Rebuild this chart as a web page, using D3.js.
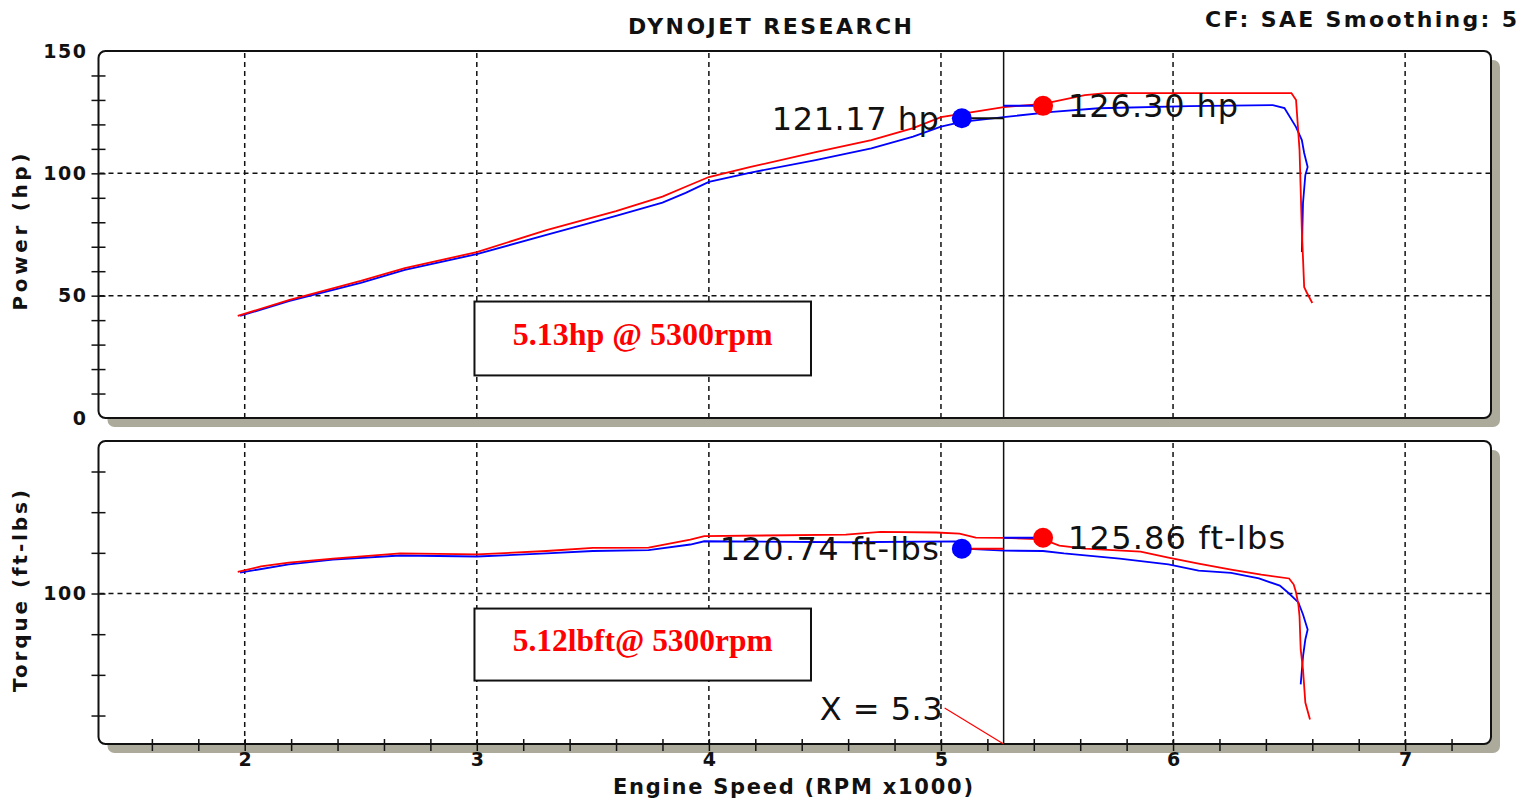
<!DOCTYPE html>
<html>
<head>
<meta charset="utf-8">
<script src="https://cdn.jsdelivr.net/npm/d3@7"></script>
<style>
  html, body { margin: 0; padding: 0; background: #fff; }
  svg { display: block; }
  text { font-family: "DejaVu Sans", Verdana, sans-serif; }
</style>
</head>
<body>
<div class="canvas"></div>
<script>
// engine speed (rpm x1000) and readings, one pair of arrays per run
const powerRpmRed = [1.97, 2.19, 2.50, 2.69, 3.00, 3.30, 3.60, 3.80, 3.90, 4.00, 4.18, 4.46, 4.70, 4.88, 5.00, 5.27, 5.44, 5.62, 5.71, 6.51, 6.53, 6.545, 6.555, 6.565, 6.575, 6.60];
const powerRed = [41.7, 48.2, 56.0, 61.3, 67.8, 76.8, 84.6, 90.5, 94.5, 98.5, 102.6, 108.7, 113.6, 118.5, 123.0, 127.1, 128.4, 132.0, 132.8, 132.8, 130.0, 109.5, 76.8, 53.5, 51.5, 47.0];

const powerRpmBlue = [1.98, 2.19, 2.50, 2.69, 3.00, 3.30, 3.60, 3.80, 3.90, 4.00, 4.18, 4.46, 4.70, 4.88, 5.00, 5.09, 5.28, 5.48, 5.68, 6.07, 6.43, 6.48, 6.53, 6.555, 6.565, 6.58, 6.57, 6.56, 6.555];
const powerBlue = [41.7, 47.8, 55.2, 60.5, 67.0, 74.8, 82.6, 88.0, 92.0, 96.5, 100.3, 105.4, 110.2, 115.0, 119.1, 121.0, 123.1, 125.1, 126.6, 127.5, 127.9, 126.7, 118.9, 113.6, 108.3, 102.6, 99.3, 87.9, 67.8];

const torqueRpmRed = [1.97, 2.07, 2.19, 2.38, 2.67, 3.00, 3.30, 3.50, 3.74, 3.92, 3.98, 4.59, 4.74, 4.98, 5.08, 5.15, 5.27, 5.44, 5.51, 5.62, 5.86, 5.98, 6.11, 6.25, 6.38, 6.50, 6.52, 6.53, 6.54, 6.545, 6.55, 6.56, 6.57, 6.59];
const torqueRed = [110.7, 113.3, 115.2, 117.2, 119.7, 119.2, 120.9, 122.4, 122.6, 126.5, 128.2, 129.0, 130.3, 130.0, 129.5, 127.5, 127.4, 126.6, 123.6, 122.1, 120.6, 117.7, 114.7, 111.8, 109.3, 107.4, 104.4, 100.5, 94.6, 88.7, 72.5, 62.6, 46.4, 38.1];

const torqueRpmBlue = [1.98, 2.19, 2.38, 2.67, 3.00, 3.30, 3.50, 3.74, 3.92, 3.98, 4.59, 5.07, 5.10, 5.27, 5.44, 5.53, 5.77, 5.98, 6.11, 6.25, 6.37, 6.46, 6.50, 6.54, 6.56, 6.58, 6.57, 6.56, 6.55];
const torqueBlue = [110.3, 114.3, 116.7, 118.7, 118.2, 119.7, 120.9, 121.3, 124.1, 125.7, 125.2, 125.6, 122.1, 121.1, 120.9, 119.7, 117.2, 114.3, 111.3, 110.2, 107.4, 103.9, 100.0, 95.6, 89.7, 82.3, 77.4, 69.0, 55.3];

// peak markers (blue run, red run)
const markerRpm = [5.09, 5.44];
const markerPower = [122.5, 127.6];
const markerTorque = [122.0, 127.4];
const markerColors = ['#0000ff', '#ff0000'];
const powerLabels = ['121.17 hp', '126.30 hp'];
const torqueLabels = ['120.74 ft-lbs', '125.86 ft-lbs'];
const cursorRpm = 5.27;

// ticks
const rpmTicks = [2, 3, 4, 5, 6, 7];
const powerTicks = [0, 50, 100, 150];
const powerGrid = [50, 100];
const torqueTicks = [100];

const width = 1538, height = 802;

const x = d3.scaleLinear().domain([1.37, 7.37]).range([98.5, 1491]);
const yPower = d3.scaleLinear().domain([0, 150]).range([418, 51]);
const yTorque = d3.scaleLinear().domain([26, 175]).range([744, 441]);

const svg = d3.select('.canvas')
    .append('svg')
    .attr('width', width)
    .attr('height', height);

const [left, right] = x.range();

// panel box with grey drop shadow
const drawPanel = (y) => {
    const [bottom, top] = y.range();
    svg.append('rect')
        .attr('x', left + 9).attr('y', top + 9)
        .attr('width', right - left).attr('height', bottom - top)
        .attr('rx', 7)
        .attr('fill', '#acab9b');
    svg.append('rect')
        .attr('x', left).attr('y', top)
        .attr('width', right - left).attr('height', bottom - top)
        .attr('rx', 7)
        .attr('fill', '#fff')
        .attr('stroke', '#111')
        .attr('stroke-width', 2);
};

const drawGrid = (y, hValues) => {
    const [bottom, top] = y.range();
    svg.append('g').selectAll('line')
        .data(rpmTicks)
        .enter().append('line')
        .attr('x1', d => x(d)).attr('x2', d => x(d))
        .attr('y1', top + 2).attr('y2', bottom - 1)
        .attr('stroke', '#111').attr('stroke-width', 1.5)
        .attr('stroke-dasharray', '5,4');
    svg.append('g').selectAll('line')
        .data(hValues)
        .enter().append('line')
        .attr('x1', left + 1).attr('x2', right - 1)
        .attr('y1', d => y(d)).attr('y2', d => y(d))
        .attr('stroke', '#111').attr('stroke-width', 1.5)
        .attr('stroke-dasharray', '5,4');
    // cursor
    svg.append('line')
        .attr('x1', x(cursorRpm)).attr('x2', x(cursorRpm))
        .attr('y1', top).attr('y2', bottom)
        .attr('stroke', '#111').attr('stroke-width', 1.5);
};

const drawLeftAxis = (y, minor, labels) => {
    const g = svg.append('g').attr('transform', `translate(${left},0)`);
    g.call(d3.axisLeft(y).tickValues(minor).tickSize(7).tickFormat(''));
    g.selectAll('.tick line').attr('x1', 7).attr('stroke', '#111').attr('stroke-width', 1.5);
    g.select('.domain').remove();

    const lg = svg.append('g').attr('transform', `translate(${left},0)`);
    lg.call(d3.axisLeft(y).tickValues(labels).tickSize(0).tickPadding(11));
    lg.select('.domain').remove();
    lg.selectAll('text')
        .attr('font-size', 19)
        .attr('font-weight', 'bold')
        .attr('letter-spacing', 1.5)
        .attr('fill', '#111');
};

const drawCurve = (rpm, values, y, color) => {
    const line = d3.line()
        .x(d => x(d[0]))
        .y(d => y(d[1]));
    svg.append('path')
        .datum(d3.zip(rpm, values))
        .attr('d', line)
        .attr('fill', 'none')
        .attr('stroke', color)
        .attr('stroke-width', 1.8);
};

const drawMarkers = (values, y, labels, labelWidths, leaderColors) => {
    // short leaders joining each marker to the cursor
    svg.append('g').selectAll('line')
        .data(values)
        .enter().append('line')
        .attr('x1', (d, i) => x(markerRpm[i])).attr('x2', x(cursorRpm))
        .attr('y1', d => y(d)).attr('y2', d => y(d))
        .attr('stroke', (d, i) => leaderColors[i])
        .attr('stroke-width', 2);
    svg.append('g').selectAll('circle')
        .data(values)
        .enter().append('circle')
        .attr('cx', (d, i) => x(markerRpm[i]))
        .attr('cy', d => y(d))
        .attr('r', 10)
        .attr('fill', (d, i) => markerColors[i]);
    svg.append('g').selectAll('text')
        .data(values)
        .enter().append('text')
        .attr('x', (d, i) => i === 0 ? x(markerRpm[i]) - 23 - labelWidths[i] : x(markerRpm[i]) + 25)
        .attr('y', d => y(d))
        .attr('dy', '0.36em')
        .attr('font-size', 32)
        .attr('textLength', (d, i) => labelWidths[i])
        .attr('lengthAdjust', 'spacing')
        .attr('fill', '#111')
        .text((d, i) => labels[i]);
};

const drawNote = (text, rpm0, rpm1, v0, v1, y, baseShift) => {
    svg.append('rect')
        .attr('x', x(rpm0)).attr('y', y(v0))
        .attr('width', x(rpm1) - x(rpm0)).attr('height', y(v1) - y(v0))
        .attr('fill', '#fff')
        .attr('stroke', '#111')
        .attr('stroke-width', 2);
    svg.append('text')
        .attr('x', (x(rpm0) + x(rpm1)) / 2 - 130)
        .attr('y', y(v0) + baseShift)
        .style('font-family', '"Liberation Serif", "Times New Roman", serif')
        .attr('font-weight', 'bold')
        .attr('font-size', 32)
        .attr('textLength', 260)
        .attr('lengthAdjust', 'spacingAndGlyphs')
        .attr('fill', '#ff0000')
        .text(text);
};

// ---- power panel
drawPanel(yPower);
drawGrid(yPower, powerGrid);
drawLeftAxis(yPower, d3.range(10, 150, 10), powerTicks);
drawNote('5.13hp @ 5300rpm', 2.99, 4.44, 47.6, 17.4, yPower, 43);
drawCurve(powerRpmBlue, powerBlue, yPower, '#0000ff');
drawCurve(powerRpmRed, powerRed, yPower, '#ff0000');
drawMarkers(markerPower, yPower, powerLabels, [167, 170], ['#111', '#0000ff']);

// ---- torque panel
drawPanel(yTorque);
drawGrid(yTorque, torqueTicks);
drawLeftAxis(yTorque, d3.range(40, 161, 20), torqueTicks);
drawNote('5.12lbft@ 5300rpm', 2.99, 4.44, 92.6, 57.2, yTorque, 42);
drawCurve(torqueRpmBlue, torqueBlue, yTorque, '#0000ff');
drawCurve(torqueRpmRed, torqueRed, yTorque, '#ff0000');
drawMarkers(markerTorque, yTorque, torqueLabels, [219, 217], ['#ff0000', '#0000ff']);

// x axis on the torque panel
const xMinor = svg.append('g').attr('transform', `translate(0,${yTorque.range()[0]})`);
xMinor.call(d3.axisBottom(x).tickValues(d3.range(1.6, 7.21, 0.2)).tickSize(7).tickFormat(''));
xMinor.selectAll('.tick line').attr('y1', -5).attr('stroke', '#111').attr('stroke-width', 1.5);
xMinor.select('.domain').remove();

const xLabels = svg.append('g').attr('transform', `translate(0,${yTorque.range()[0]})`);
xLabels.call(d3.axisBottom(x).tickValues(rpmTicks).tickSize(0).tickPadding(9).tickFormat(d3.format('d')));
xLabels.select('.domain').remove();
xLabels.selectAll('text')
    .attr('font-size', 19)
    .attr('font-weight', 'bold')
    .attr('fill', '#111');

// cursor readout
const cursorLabelY = 708;
svg.append('line')
    .attr('x1', x(cursorRpm) - 59).attr('y1', cursorLabelY)
    .attr('x2', x(cursorRpm)).attr('y2', yTorque.range()[0])
    .attr('stroke', '#ff0000').attr('stroke-width', 1.2);
svg.append('text')
    .attr('x', x(cursorRpm) - 61 - 123).attr('y', cursorLabelY)
    .attr('dy', '0.36em')
    .attr('font-size', 32)
    .attr('textLength', 123)
    .attr('lengthAdjust', 'spacing')
    .attr('fill', '#111')
    .text(`X = ${cursorRpm.toFixed(1)}`);

// titles
const bold = (sel) => sel.attr('font-weight', 'bold').attr('fill', '#111').attr('lengthAdjust', 'spacing');

svg.append('text').call(bold)
    .attr('x', 628).attr('y', 34)
    .attr('font-size', 22)
    .attr('textLength', 284)
    .text('DYNOJET RESEARCH');

svg.append('text').call(bold)
    .attr('x', 1205).attr('y', 27)
    .attr('font-size', 22)
    .attr('textLength', 312)
    .text('CF: SAE  Smoothing: 5');

svg.append('text').call(bold)
    .attr('x', 613).attr('y', 794)
    .attr('font-size', 21)
    .attr('textLength', 360)
    .text('Engine Speed (RPM x1000)');

svg.append('text').call(bold)
    .attr('transform', `translate(27,${(yPower(0) + yPower(150)) / 2 - 2}) rotate(-90)`)
    .attr('x', -78)
    .attr('font-size', 20)
    .attr('textLength', 157)
    .text('Power (hp)');

svg.append('text').call(bold)
    .attr('transform', `translate(27,591) rotate(-90)`)
    .attr('x', -101)
    .attr('font-size', 20)
    .attr('textLength', 202)
    .text('Torque (ft-lbs)');
</script>
</body>
</html>
